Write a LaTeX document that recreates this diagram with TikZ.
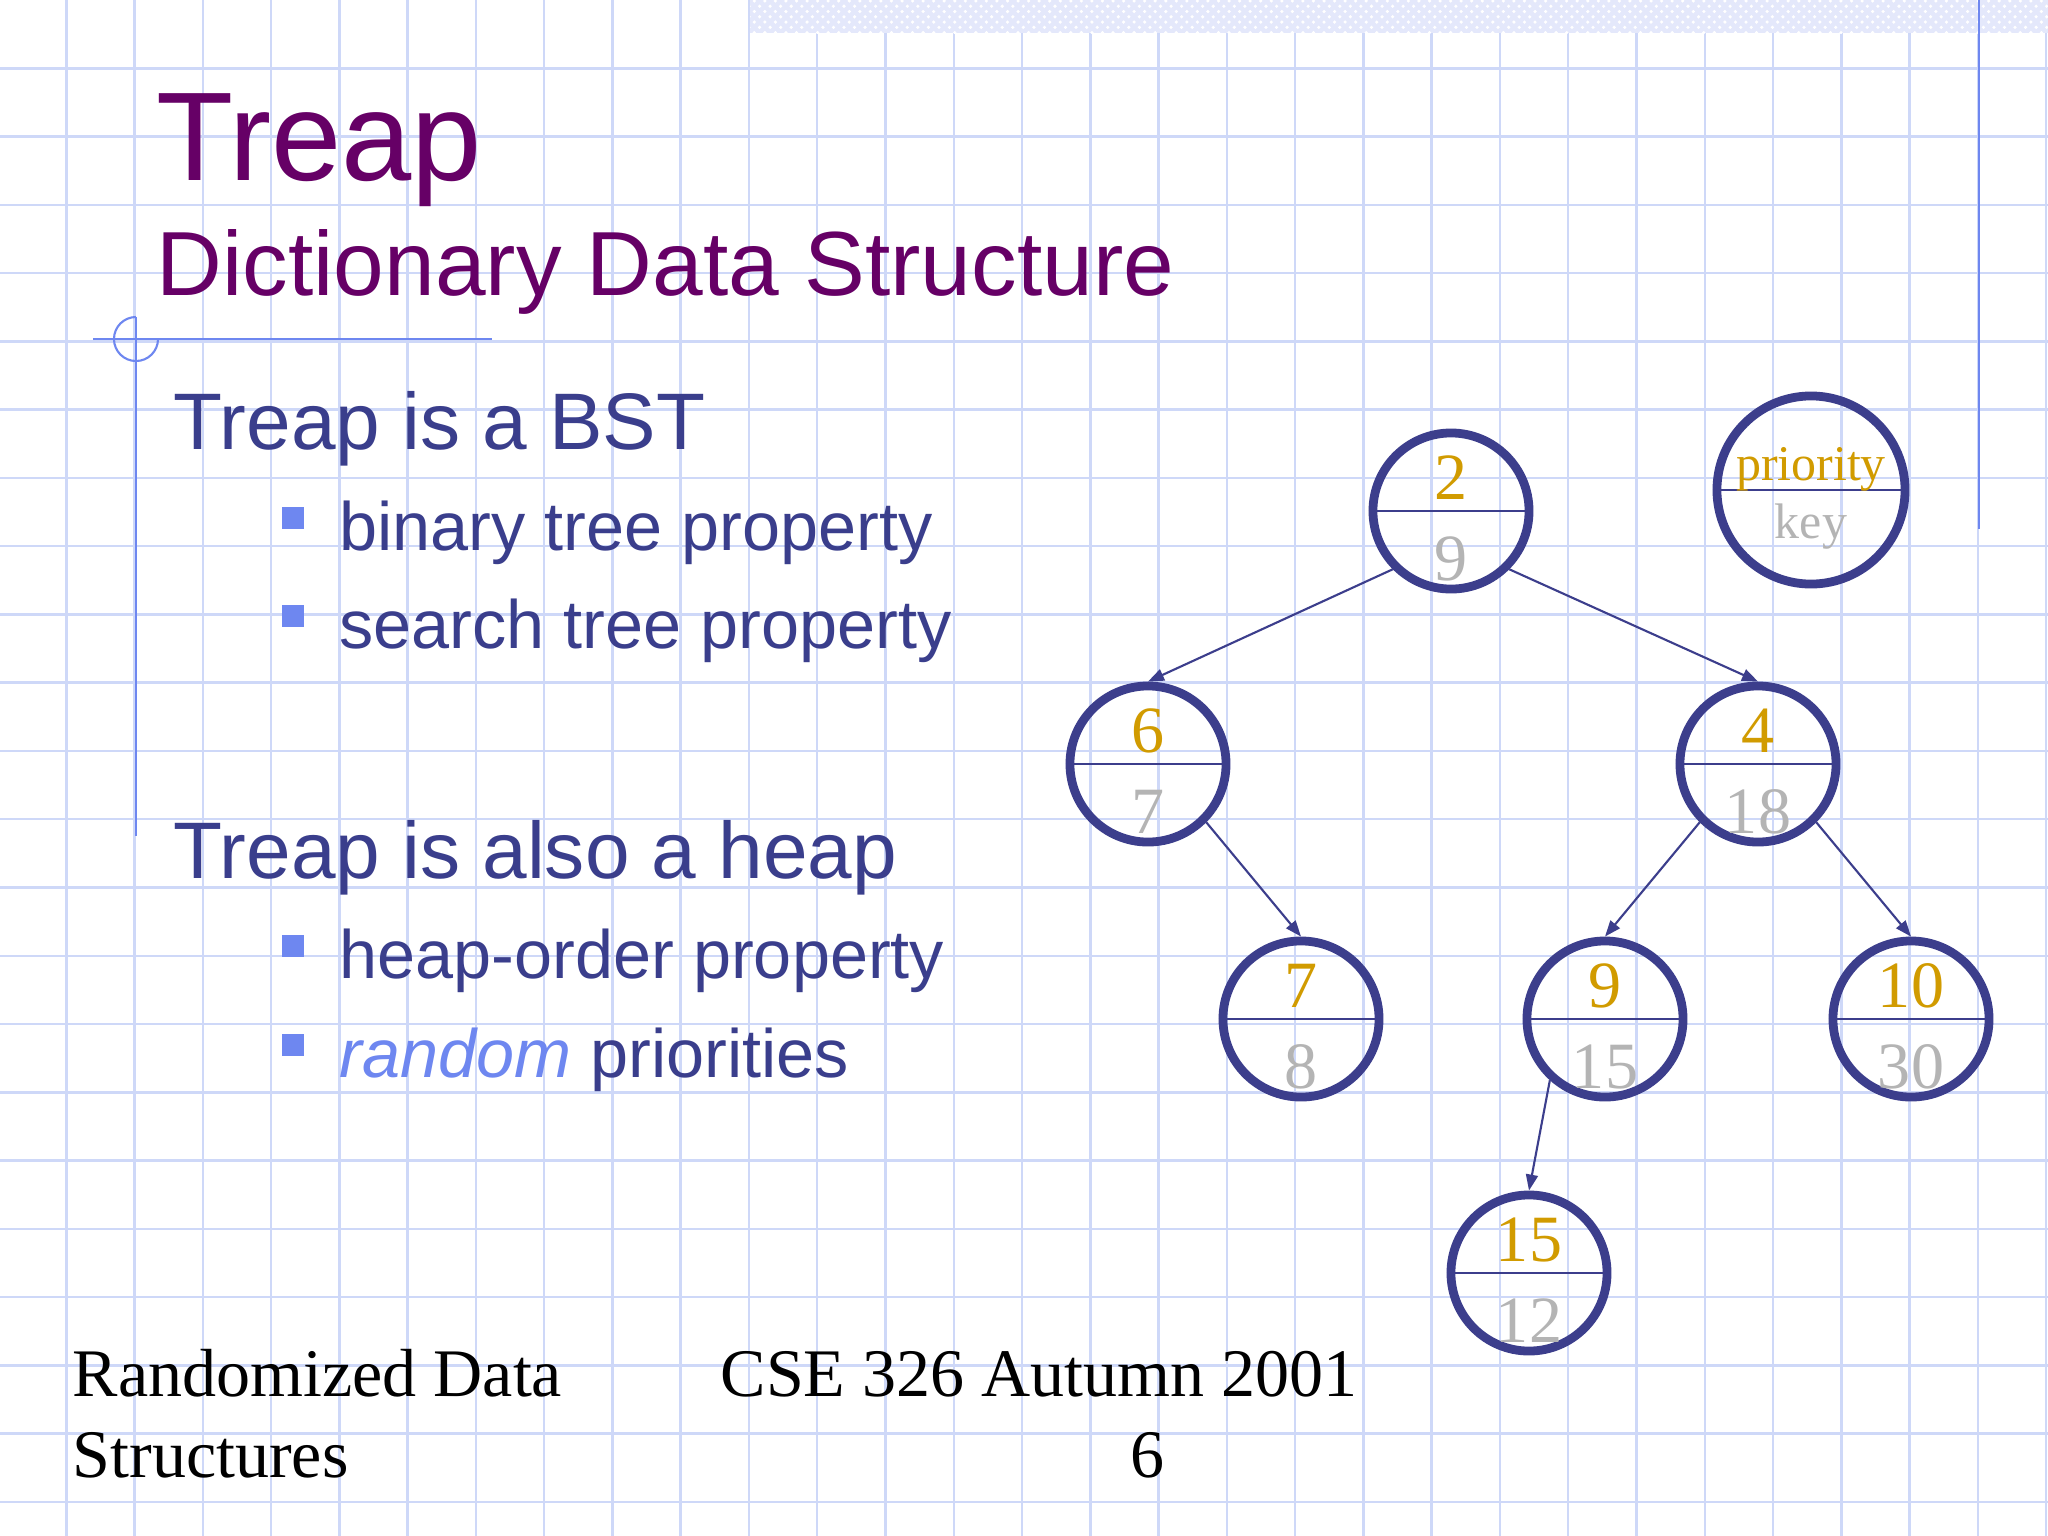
\documentclass[tikz,border=0pt]{standalone}
\usepackage{fontspec}
\setmainfont{Liberation Serif}
\newfontfamily\slidefont{Liberation Sans}
\usetikzlibrary{arrows.meta,positioning,calc,patterns}

\definecolor{titlepurple}{RGB}{102,0,102}
\definecolor{textblue}{RGB}{58,62,140}
\definecolor{bulletblue}{RGB}{110,135,240}
\definecolor{gridblue}{RGB}{206,216,248}
\definecolor{bandblue}{RGB}{228,232,251}
\definecolor{ringblue}{RGB}{60,62,140}
\definecolor{prigold}{RGB}{209,155,0}
\definecolor{keygray}{RGB}{180,180,180}

\tikzset{
  gridline/.style={gridblue, line width=0.7pt},
  decoline/.style={bulletblue, line width=0.6pt},
  tnode/.style={draw=ringblue, line width=2.5pt, circle, minimum size=1.56cm, inner sep=0pt},
  divider/.style={ringblue, line width=0.6pt},
  pri/.style={text=prigold, anchor=base, inner sep=0pt, font=\fontsize{18.8pt}{20pt}\selectfont},
  keynum/.style={pri, text=keygray},
  edge/.style={draw=ringblue, line width=0.6pt, -{Triangle[length=0.16cm,width=0.12cm]}},
  slidetext/.style={anchor=base west, inner sep=0pt, text=textblue},
  bulletsq/.style={fill=bulletblue, minimum size=0.22cm, inner sep=0pt},
  foot/.style={anchor=base west, inner sep=0pt, font=\fontsize{19.35pt}{22pt}\selectfont}
}

\begin{document}
\begin{tikzpicture}[x=0.01cm, y=-0.01cm]
  \useasboundingbox (0,0) rectangle (2048,1536);
  \fill[white] (0,0) rectangle (2048,1536);

  % background grid
  \foreach \gx in {0,...,30}
    \draw[gridline] ({-2+68.27*\gx},0) -- ({-2+68.27*\gx},1536);
  \foreach \gy in {1,...,22}
    \draw[gridline] (0,{68.27*\gy}) -- (2048,{68.27*\gy});

  % top band and side rules
  \fill[bandblue] (750,0) rectangle (2048,33);
  \fill[pattern=crosshatch dots, pattern color=white] (750,0) rectangle (2048,33);
  \draw[decoline] (1979,0) -- (1979,529);
  \draw[decoline] (136,317) -- (136,836);
  \draw[decoline] (93,339) -- (492,339);
  \draw[decoline] (136,317) arc[start angle=90, end angle=360, radius=0.22cm];

  % title
  \node[anchor=base west, inner sep=0pt, text=titlepurple,
        font=\slidefont\fontsize{35.9pt}{40pt}\selectfont] (title) at (156,180) {Treap};
  \node[anchor=base west, inner sep=0pt, text=titlepurple,
        font=\slidefont\fontsize{25.9pt}{30pt}\selectfont] (subtitle) at (156,295) {Dictionary Data Structure};

  % bullet text
  \node[slidetext, font=\slidefont\fontsize{22.8pt}{26pt}\selectfont] (bst) at (173,449) {Treap is a BST};
  \node[slidetext, font=\slidefont\fontsize{19.45pt}{22pt}\selectfont] (bstA) at (339,550) {binary tree property};
  \node[slidetext, font=\slidefont\fontsize{19.45pt}{22pt}\selectfont] (bstB) at (339,648) {search tree property};
  \node[slidetext, font=\slidefont\fontsize{22.8pt}{26pt}\selectfont] (heap) at (173,878) {Treap is also a heap};
  \node[slidetext, font=\slidefont\fontsize{19.45pt}{22pt}\selectfont] (heapA) at (339,978) {heap-order property};
  \node[slidetext, font=\slidefont\fontsize{19.45pt}{22pt}\selectfont] (heapB) at (339,1077)
    {\textcolor{bulletblue}{\itshape random} priorities};
  \node[bulletsq] (bA) at (293,518) {};
  \node[bulletsq] (bB) at (293,616) {};
  \node[bulletsq] (hA) at (293,946) {};
  \node[bulletsq] (hB) at (293,1045) {};

  % footer
  \node[foot] (footL) at (72,1396) {Randomized Data};
  \node[foot] (footL2) at (72,1477) {Structures};
  \node[foot] (footR) at (720,1396) {CSE 326 Autumn 2001};
  \node[foot, anchor=base] (pagenum) at (1147,1477) {6};

  % treap nodes
  \node[tnode, minimum size=1.88cm] (legend) at (1811,490) {};
  \draw[divider] (legend.west) -- (legend.east);
  \node[pri, font=\fontsize{14.2pt}{16pt}\selectfont] at ($(legend)+(0,-10)$) {priority};
  \node[keynum, font=\fontsize{14.2pt}{16pt}\selectfont] at ($(legend)+(0,48)$) {key};

  \node[tnode] (n2) at (1451,511) {};
  \draw[divider] (n2.west) -- (n2.east);
  \node[pri] at ($(n2)+(0,-12)$) {2};
  \node[keynum] at ($(n2)+(0,69)$) {9};

  \node[tnode] (n6) at (1148,764) {};
  \draw[divider] (n6.west) -- (n6.east);
  \node[pri] at ($(n6)+(0,-12)$) {6};
  \node[keynum] at ($(n6)+(0,69)$) {7};

  \node[tnode] (n4) at (1758,764) {};
  \draw[divider] (n4.west) -- (n4.east);
  \node[pri] at ($(n4)+(0,-12)$) {4};
  \node[keynum] at ($(n4)+(0,69)$) {18};

  \node[tnode] (n7) at (1301,1019) {};
  \draw[divider] (n7.west) -- (n7.east);
  \node[pri] at ($(n7)+(0,-12)$) {7};
  \node[keynum] at ($(n7)+(0,69)$) {8};

  \node[tnode] (n9) at (1605,1019) {};
  \draw[divider] (n9.west) -- (n9.east);
  \node[pri] at ($(n9)+(0,-12)$) {9};
  \node[keynum] at ($(n9)+(0,69)$) {15};

  \node[tnode] (n10) at (1911,1019) {};
  \draw[divider] (n10.west) -- (n10.east);
  \node[pri] at ($(n10)+(0,-12)$) {10};
  \node[keynum] at ($(n10)+(0,69)$) {30};

  \node[tnode] (n15) at (1529,1273) {};
  \draw[divider] (n15.west) -- (n15.east);
  \node[pri] at ($(n15)+(0,-12)$) {15};
  \node[keynum] at ($(n15)+(0,69)$) {12};

  \draw[edge] (n2.225) -- (n6.north);
  \draw[edge] (n2.-45) -- (n4.north);
  \draw[edge] (n6.-45) -- (n7.north);
  \draw[edge] (n4.225) -- (n9.north);
  \draw[edge] (n4.-45) -- (n10.north);
  \draw[edge] (n9.228) -- (n15.north);
\end{tikzpicture}
\end{document}
